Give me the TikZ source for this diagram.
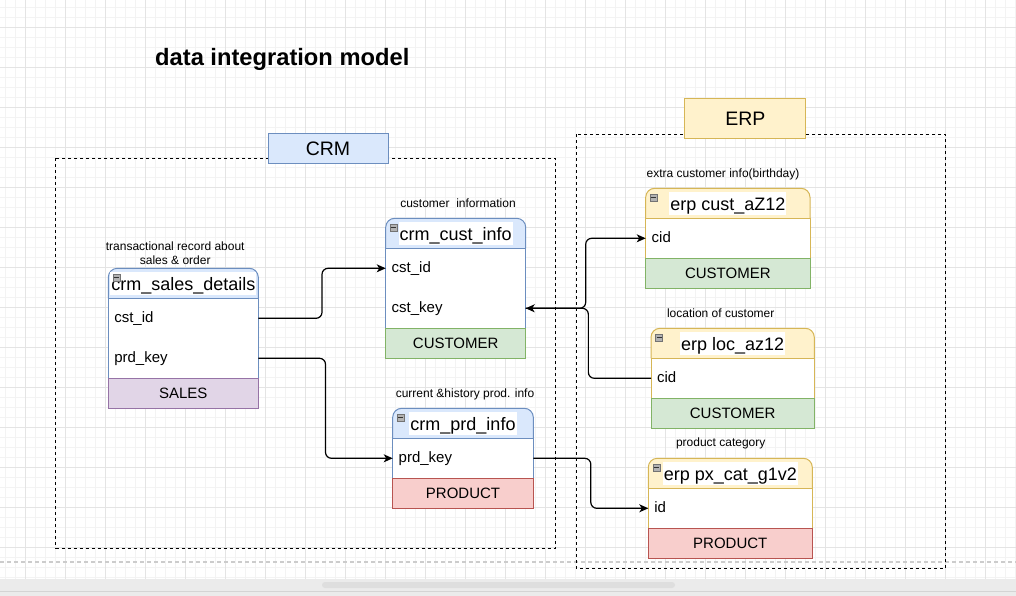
\documentclass[tikz,border=0pt]{standalone}
\usepackage{fontspec}
\setmainfont{Liberation Sans}
\usepackage{xcolor}
\usepackage{tikz}
\usetikzlibrary{arrows.meta,calc}

\definecolor{crmF}{HTML}{DAE8FC}
\definecolor{crmD}{HTML}{6C8EBF}
\definecolor{erpF}{HTML}{FFF2CC}
\definecolor{erpD}{HTML}{D6B656}
\definecolor{cusF}{HTML}{D5E8D4}
\definecolor{cusD}{HTML}{82B366}
\definecolor{prdF}{HTML}{F8CECC}
\definecolor{prdD}{HTML}{B85450}
\definecolor{salF}{HTML}{E1D5E7}
\definecolor{salD}{HTML}{9673A6}
\definecolor{gridMaj}{HTML}{E4E4E4}
\definecolor{gridMin}{HTML}{F3F3F3}
\newcommand{\fsz}[1]{\fontsize{#1}{#1}\selectfont}

\begin{document}
\begin{tikzpicture}[x=1pt,y=-1pt,
    tbl/.style={line width=1pt},
    ttl/.style={fill=white,inner xsep=1pt,inner ysep=0pt,text height=18pt,text depth=4.5pt,font=\fsz{18}},
    fld/.style={inner xsep=6pt,inner ysep=0pt,outer sep=0pt,text height=9pt,text depth=0pt,align=left,font=\fsz{15}},
    foot/.style={draw,line width=1pt,minimum height=30pt,inner sep=0pt,text height=10.8pt,text depth=0pt,font=\fsz{15}},
    note/.style={anchor=base,inner sep=0pt,font=\fsz{12}},
    grp/.style={draw,line width=1pt,inner sep=0pt,text height=14pt,text depth=0pt,font=\fsz{19.5}},
    box/.style={draw=black,line width=1pt,dash pattern=on 3pt off 3pt},
    conn/.style={line width=1.2pt,rounded corners=6pt,-{Stealth[length=9pt,width=8pt,inset=2.5pt]}}]
    \useasboundingbox (0,0) rectangle (1016,596);
    % 网格
    \foreach \i in {0,...,101} \draw[gridMin,line width=1pt] (5.7+10*\i,0) -- (5.7+10*\i,579);
    \foreach \i in {0,...,57} \draw[gridMin,line width=1pt] (0,7.3+10*\i) -- (1016,7.3+10*\i);
    \foreach \i in {0,...,24} \draw[gridMaj,line width=1pt] (25.7+40*\i,0) -- (25.7+40*\i,579);
    \foreach \i in {0,...,13} \draw[gridMaj,line width=1pt] (0,27.3+40*\i) -- (1016,27.3+40*\i);
    \draw[black!20,line width=1.3pt,dash pattern=on 4pt off 3pt] (0,562) -- (1016,562);
    \fill[black!8] (0,579) rectangle (1016,596);
    \draw[black!17] (0,591) -- (1016,591);
    \fill[black!13,rounded corners=3pt] (322,582) rectangle (675,588);
    % 标题
    \node[anchor=base west,inner sep=0pt,font=\bfseries\fsz{23.7}] (title) at (155,66) {data integration model};
    % 分组虚线框
    \draw[box] (55.7,158.3) rectangle (555.5,548.3);
    \draw[box] (576,134.3) rectangle (945.6,568.3);
    \node[grp,fill=crmF,draw=crmD,minimum width=120pt,minimum height=30pt] (crmLbl) at (328,149) {CRM};
    \node[grp,fill=erpF,draw=erpD,minimum width=120.7pt,minimum height=40pt] (erpLbl) at (745.3,118.3) {ERP};
    % 表头与表体
    \foreach \lx/\rx/\ty/\fy/\col in {108.3/258.3/268.3/378.3/crm, 385.7/525.7/218.3/328.3/crm,
        392.7/533.3/408.3/478.3/crm, 645.7/810/188.3/258.3/erp, 651/814.3/328.3/398.3/erp,
        648.3/812.3/458.3/528.3/erp}{
        \draw[tbl,draw=\col D,fill=\col F,rounded corners=9pt] (\lx,\ty+30) |- (\lx/2+\rx/2,\ty) -| (\rx,\ty+30);
        \draw[tbl,draw=\col D,fill=white] (\lx,\ty+30) rectangle (\rx,\fy);
    }
    % 表尾
    \node[foot,fill=salF,draw=salD,minimum width=150pt] (salesFt) at (183.3,393.3) {SALES};
    \node[foot,fill=cusF,draw=cusD,minimum width=140pt] (custFt) at (455.7,343.3) {CUSTOMER};
    \node[foot,fill=prdF,draw=prdD,minimum width=140.6pt] (prdFt) at (463,493.3) {PRODUCT};
    \node[foot,fill=cusF,draw=cusD,minimum width=164.3pt] (erpFt) at (727.85,273.3) {CUSTOMER};
    \node[foot,fill=cusF,draw=cusD,minimum width=163.3pt] (locFt) at (732.65,413.3) {CUSTOMER};
    \node[foot,fill=prdF,draw=prdD,minimum width=164pt] (pxFt) at (730.3,543.3) {PRODUCT};
    % 表名
    \node[ttl] (salesTtl) at (183.3,283.3) {crm\_sales\_details};
    \node[ttl] (custTtl) at (455.7,233.3) {crm\_cust\_info};
    \node[ttl] (prdTtl) at (463,423.3) {crm\_prd\_info};
    \node[ttl] (erpTtl) at (727.85,203.3) {erp cust\_aZ12};
    \node[ttl] (locTtl) at (732.65,343.3) {erp loc\_az12};
    \node[ttl] (pxTtl) at (730.3,473.3) {erp px\_cat\_g1v2};
    % 折叠按钮
    \foreach \lx/\ty in {108.3/268.3, 385.7/218.3, 392.7/408.3, 645.7/188.3, 651/328.3, 648.3/458.3}{
        \draw[black!55,fill=black!30] (\lx+4.5,\ty+6) rectangle (\lx+11.5,\ty+13);
        \draw[black!80,line width=1pt] (\lx+5.5,\ty+9) -- (\lx+10.5,\ty+9);
    }
    % 字段
    \node[fld,text width=138pt] (salesCst) at (183.3,318.3) {cst\_id};
    \node[fld,text width=138pt] (salesPrd) at (183.3,358.3) {prd\_key};
    \node[fld,text width=128pt] (custCst) at (455.7,268.3) {cst\_id};
    \node[fld,text width=128pt] (custKey) at (455.7,308.3) {cst\_key};
    \node[fld,text width=128.6pt] (prdKey) at (463,458.3) {prd\_key};
    \node[fld,text width=152.3pt] (erpCid) at (727.85,238.3) {cid};
    \node[fld,text width=151.3pt] (locCid) at (732.65,378.3) {cid};
    \node[fld,text width=152pt] (pxId) at (730.3,508.3) {id};
    % 说明
    \node[inner sep=0pt,align=center,font=\fontsize{12}{14}\selectfont] (salesNote) at (175.2,253.4) {transactional record about\\sales \& order};
    \node[note] (custNote) at (458,207) {customer\ \ information};
    \node[note] (prdNote) at (465,397.5) {current \&history prod. info};
    \node[note] (erpNote) at (723,177.3) {extra customer info(birthday)};
    \node[note] (locNote) at (720.7,317.3) {location of customer};
    \node[note] (pxNote) at (720.7,446.7) {product category};
    % 连线
    \draw[conn] (salesCst.east) -| ($(salesCst.east)!.5!(custCst.west)$) |- (custCst.west);
    \draw[conn] (salesPrd.east) -| ($(salesPrd.east)!.5!(prdKey.west)$) |- (prdKey.west);
    \draw[conn] (custKey.east) -| ($(custKey.east)!.5!(erpCid.west)$) |- (erpCid.west);
    \draw[conn] (locCid.west) -| ($(locCid.west)!.5!(custKey.east)$) |- (custKey.east);
    \draw[conn] (prdKey.east) -| ($(prdKey.east)!.5!(pxId.west)$) |- (pxId.west);
\end{tikzpicture}
\end{document}
